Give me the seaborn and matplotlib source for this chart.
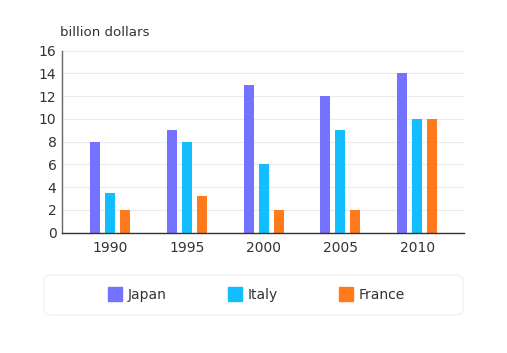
import matplotlib
matplotlib.use("Agg")
import matplotlib.pyplot as plt
import seaborn as sns
import pandas as pd
from matplotlib.patches import FancyBboxPatch
from matplotlib.lines import Line2D

years = ["1990", "1995", "2000", "2005", "2010"]
japan = [8, 9, 13, 12, 14]
italy = [3.5, 8, 6, 9, 10]
france = [2, 3.2, 2, 2, 10]
series = ["Japan", "Italy", "France"]
colors = ["#7373FF", "#12BEFF", "#FF7A1C"]
y_ticks = [0, 2, 4, 6, 8, 10, 12, 14, 16]

df = pd.DataFrame({
    "year": years * 3,
    "value": japan + italy + france,
    "country": ["Japan"] * 5 + ["Italy"] * 5 + ["France"] * 5,
})

sns.set_theme(style="white")
plt.rcParams['font.family'] = ['DejaVu Sans']

fig = plt.figure(figsize=(5.07, 3.53), dpi=100)
ax = fig.add_axes([0.1223, 0.3408, 0.9152 - 0.1223, 0.8564 - 0.3408])

sns.barplot(data=df, x="year", y="value", hue="country", hue_order=series,
            palette=colors, width=0.586, gap=0.33, ax=ax, legend=False,
            saturation=1, linewidth=0)

ax.set_ylim(0, 16)
ax.set_xlim(-0.625, 4.61)
ax.set_yticks(y_ticks)
ax.set_yticklabels([str(t) for t in y_ticks], fontsize=10, color="#333333")
ax.tick_params(axis="x", labelsize=10, colors="#333333", length=0, pad=6)
ax.tick_params(axis="y", length=0, pad=4)
ax.set_xlabel("")
ax.set_ylabel("")
ax.grid(axis="y", color="#EBEBEB", linewidth=0.8)
ax.set_axisbelow(True)
for s in ["top", "right"]:
    ax.spines[s].set_visible(False)
ax.spines["left"].set_color("#666666")
ax.spines["left"].set_linewidth(1.0)
ax.spines["bottom"].set_color("#333333")
ax.spines["bottom"].set_linewidth(1.0)

fig.text(60 / 507, 1 - 33 / 353, "billion dollars", fontsize=9.6, color="#333333",
         ha="left", va="center")

# legend frame
box = FancyBboxPatch((44 / 507, 1 - 315 / 353), (463 - 44) / 507, 40 / 353,
                     boxstyle="round,pad=0,rounding_size=0.015",
                     transform=fig.transFigure, facecolor="white",
                     edgecolor="#EEEEEE", linewidth=0.8)
fig.patches.append(box)

handles = [Line2D([0], [0], marker="s", linestyle="", markersize=9.5,
                  markerfacecolor=c, markeredgecolor=c) for c in colors]
leg = fig.legend(handles, series, loc="center", bbox_to_anchor=(256.5 / 507, 1 - 295 / 353),
                 ncol=3, frameon=False, fontsize=10, handletextpad=0.4,
                 columnspacing=4.4, handlelength=1.0)
for t in leg.get_texts():
    t.set_color("#333333")

fig.savefig("out.png", dpi=100)
